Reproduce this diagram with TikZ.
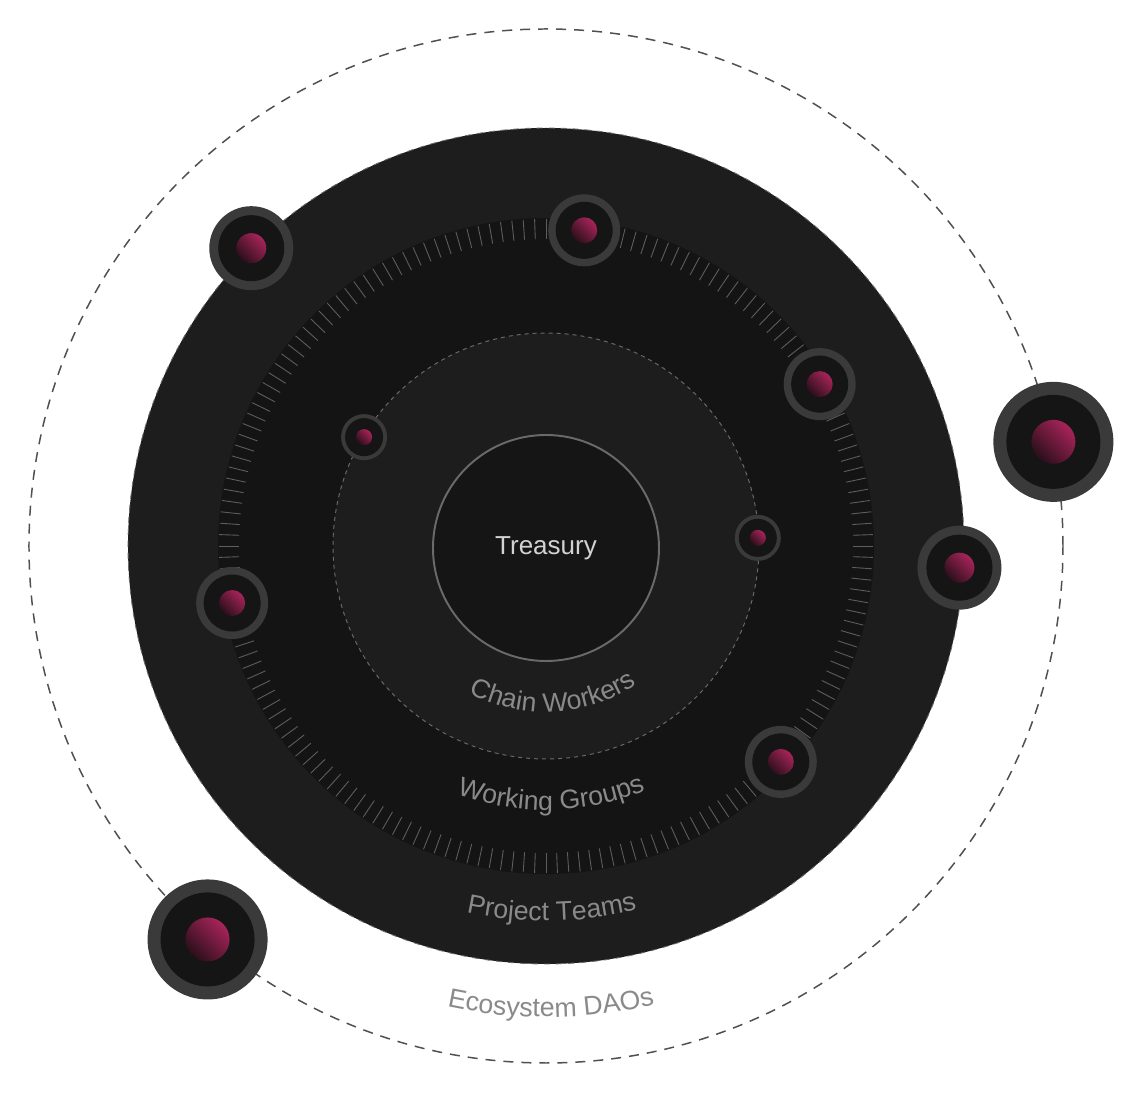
\documentclass[tikz,border=0pt]{standalone}
\usepackage{fontspec}
\setmainfont{Liberation Sans}
\usepackage{tikz}
\usetikzlibrary{decorations.text}
\definecolor{DiskGray}{HTML}{1D1D1D}
\definecolor{BandDark}{HTML}{141414}
\definecolor{CoreDark}{HTML}{151515}
\definecolor{RingGray}{HTML}{3A3A3A}
\definecolor{TickGray}{HTML}{5E5E5E}
\definecolor{OrbitGray}{HTML}{505050}
\definecolor{EdgeGray}{HTML}{6A6A6A}
\definecolor{LabelGray}{HTML}{8A8A8A}
\definecolor{TreasuryText}{HTML}{D2D2D2}
\definecolor{BallPink}{HTML}{A8245A}
\definecolor{BallDark}{HTML}{2A0F1A}
\newcommand{\ringfont}{\fontsize{15.2}{18}\selectfont}

\begin{document}
\begin{tikzpicture}[x=0.2mm, y=0.2mm,
  orbit/.style={draw=OrbitGray, line width=0.85pt, dash pattern=on 2mm off 1.6mm},
  tickmark/.style={draw=TickGray, line width=0.5pt},
  ringlabel/.style={decorate, decoration={text along path, text align=center,
      text color=LabelGray, text={|\ringfont|#1}}},
  shell/.style={circle, fill=RingGray, inner sep=0pt},
  core/.style={circle, fill=CoreDark, inner sep=0pt},
  ball/.style={circle, inner sep=0pt, shading=axis, top color=BallPink,
      bottom color=BallDark, shading angle=-45}]
\useasboundingbox (-546,-548) rectangle (588,546);
\fill[white] (-546,-548) rectangle (588,546);

% orbits and bands
\draw[orbit] (0,0) circle[radius=517];
\fill[DiskGray] (0,0) circle[radius=418];
\draw[EdgeGray, line width=0.5pt, dash pattern=on 1.2mm off 1.2mm] (0,0) circle[radius=418];
\fill[BandDark] (0,0) circle[radius=328];
\foreach \a in {0,2,...,358}
  \draw[tickmark] (\a:307) -- (\a:327);
\fill[DiskGray] (0,0) circle[radius=213];
\draw[EdgeGray, line width=0.55pt, dash pattern=on 0.8mm off 0.8mm] (0,0) circle[radius=213];

\node[circle, draw=EdgeGray, line width=1.1pt, fill=CoreDark, minimum size=45.2mm,
      text=TreasuryText, font=\fontsize{14.8}{18}\selectfont] (treasury) at (0,-2) {Treasury};

% curved labels
\path[ringlabel={Chain Workers}] (202.8:166) arc[start angle=202.8, end angle=342.8, radius=166];
\path[ringlabel={Working Groups}] (211.2:264) arc[start angle=211.2, end angle=331.2, radius=264];
\path[ringlabel={Project Teams}] (220.9:375) arc[start angle=220.9, end angle=320.9, radius=375];
\path[ringlabel={Ecosystem DAOs}] (225.6:471) arc[start angle=225.6, end angle=315.6, radius=471];

% planets
\foreach \name/\ang/\rad/\so/\si/\sb in {
    dao-a/11.6/518/24/18.8/8.8, dao-b/229.3/519/24/18.8/8.8,
    team-a/134.7/419/16.8/13.2/6, team-b/-3/414/16.8/13.2/6,
    group-a/83.1/318/14.4/11.4/5.2, group-b/30.6/318/14.4/11.4/5.2,
    group-c/190.3/319/14.4/11.4/5.2, group-d/-42.6/319/14.4/11.4/5.2,
    worker-a/149.1/212/9.2/7.6/3.2, worker-b/2.2/212/9.2/7.6/3.2} {
  \node[shell, minimum size=\so mm] (\name) at (\ang:\rad) {};
  \node[core, minimum size=\si mm] (\name-core) at (\name) {};
  \node[ball, minimum size=\sb mm] (\name-ball) at (\name) {};
}
\end{tikzpicture}
\end{document}
